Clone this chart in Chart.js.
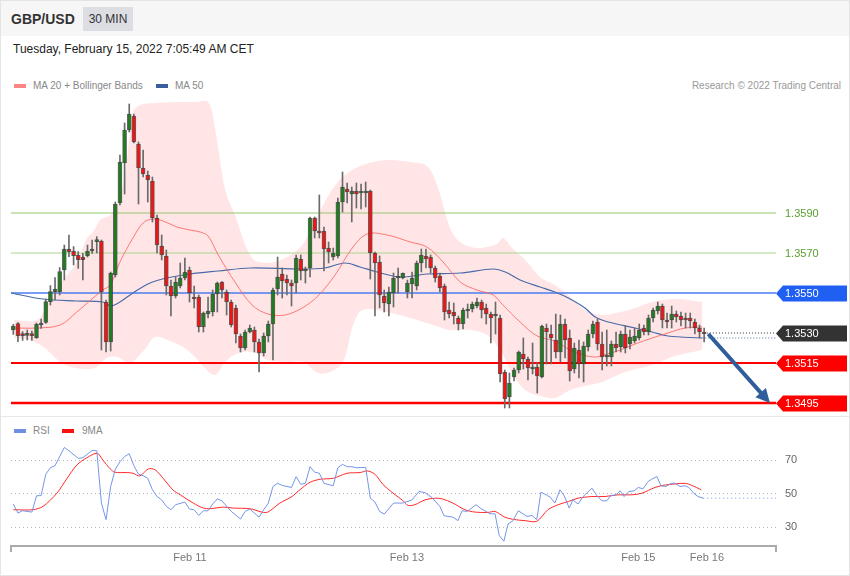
<!DOCTYPE html>
<html>
<head>
<meta charset="utf-8">
<title>GBP/USD 30 MIN</title>
<script src="https://cdn.jsdelivr.net/npm/chart.js@4.4.0/dist/chart.umd.min.js"></script>
<style>
  html, body { margin: 0; padding: 0; background: #fff; }
  body { font-family: "Liberation Sans", Arial, sans-serif; }
  #wrap { position: relative; width: 850px; height: 576px; overflow: hidden; }
  .abs { position: absolute; }
  .top { left: 0; top: 0; width: 850px; height: 36px; background: #f6f6f6; }
  .sym { left: 11px; top: 11px; font-size: 14px; font-weight: bold; color: #333; }
  .tf { left: 83px; top: 7px; width: 50px; height: 24px; line-height: 24px; text-align: center; background: #dcdee3; font-size: 12px; color: #333; }
  .date { left: 13px; top: 42px; font-size: 12px; color: #222; }
  .leg { font-size: 10px; color: #888; line-height: 12px; }
  .sw { width: 12px; height: 4px; }
  .copy { right: 9px; top: 80px; font-size: 10px; color: #999; line-height: 12px; }
  .sep { left: 0; top: 416px; width: 850px; height: 1px; background: #e8e8e8; }
  .frame { left: 0; top: 0; width: 848px; height: 574px; border: 1px solid #e4e4e4; pointer-events: none; }
  canvas { position: absolute; left: 0; }
</style>
</head>
<body>
<div id="wrap">
  <div class="abs top"></div>
  <div class="abs sym">GBP/USD</div>
  <div class="abs tf">30 MIN</div>
  <div class="abs date">Tuesday, February 15, 2022 7:05:49 AM CET</div>

  <div class="abs sw" style="left:14px; top:84px; background:#ff8585;"></div>
  <div class="abs leg" style="left:33px; top:80px;">MA 20 + Bollinger Bands</div>
  <div class="abs sw" style="left:156px; top:84px; background:#3a5e9e;"></div>
  <div class="abs leg" style="left:175px; top:80px;">MA 50</div>
  <div class="abs copy">Research © 2022 Trading Central</div>

  <canvas id="priceChart" width="850" height="320" style="top:96px"></canvas>
  <div class="abs sep"></div>

  <div class="abs sw" style="left:14px; top:429px; background:#6f8fe3;"></div>
  <div class="abs leg" style="left:33px; top:425px;">RSI</div>
  <div class="abs sw" style="left:62px; top:429px; background:#ff1010;"></div>
  <div class="abs leg" style="left:82px; top:425px;">9MA</div>

  <canvas id="rsiChart" width="850" height="130" style="top:440px"></canvas>
  <div class="abs frame"></div>
</div>

<script>
Chart.defaults.font.family = '"Liberation Sans", Arial, sans-serif';
Chart.defaults.animation = false;

// candles (30 min), index 0..149
const opens = [
  1.35315,1.35347,1.35297,1.35288,1.35295,1.35277,1.3534,1.35353,1.35457,1.35507,
  1.35507,1.35615,1.3572,1.3571,1.3569,1.3568,1.35687,1.3571,1.35757,1.3576,
  1.35455,1.35255,1.3559,1.3595,1.3615,1.36315,1.36385,1.36245,1.36125,1.3609,
  1.3606,1.35875,1.35735,1.35685,1.35535,1.35485,1.35535,1.35575,
  1.35615,1.3548,1.3548,1.3533,1.35395,1.35405,1.35495,1.35555,1.35505,1.35455,
  1.35425,1.35285,1.35225,1.35305,1.35315,1.35255,1.352,1.35285,1.35345,1.3552,
  1.35595,1.3557,1.3555,1.3555,1.3567,1.3561,1.35625,1.35875,1.3581,1.3581,
  1.35725,1.3568,1.35685,1.35955,1.3602,1.35995,1.3601,1.36,
  1.36,1.3601,1.357,1.35655,1.35485,1.35445,1.355,1.35575,1.35575,1.35505,
  1.35545,1.35535,1.3565,1.35685,1.3568,1.35625,1.35585,1.35535,1.35415,1.35405,
  1.35375,1.35345,1.3541,1.3542,1.35435,1.35455,1.35425,1.35395,1.35385,1.35375,
  1.35105,1.3498,1.3508,1.35115,1.35195,1.3517,1.3512,1.3513,
  1.3508,1.35325,1.35295,1.35265,1.35205,1.35345,1.35275,1.3512,1.35215,1.35145,
  1.3523,1.35295,1.35355,1.35245,1.3518,1.3518,1.35245,1.3523,1.35295,1.35245,
  1.3526,1.35275,1.35325,1.35305,1.35375,1.3541,1.35435,1.35365,1.35365,1.35395,
  1.35385,1.35375,1.35375,1.35355,1.35325,1.353
];
const highs = [
  1.35343,1.35352,1.35307,1.35315,1.3531,1.3535,1.3537,1.3547,1.35537,1.35577,
  1.35627,1.3574,1.3579,1.35732,1.35707,1.35698,1.3574,1.35765,1.35782,1.35765,
  1.35465,1.35605,1.35955,1.3619,1.3635,1.36445,1.36395,1.36255,1.36215,1.3611,
  1.3608,1.3589,1.3579,1.35715,1.35565,1.3558,1.3565,1.35675,
  1.3563,1.35535,1.3549,1.35405,1.3548,1.35515,1.35555,1.35557,1.35515,1.35465,
  1.3544,1.35295,1.35315,1.3534,1.3533,1.3527,1.353,1.3536,1.35525,1.3568,
  1.35625,1.3559,1.35565,1.3569,1.3569,1.3563,1.3588,1.3588,1.3599,1.3583,
  1.35755,1.35725,1.35975,1.36105,1.3605,1.3603,1.3605,1.36045,
  1.36055,1.36015,1.35705,1.35685,1.35515,1.3553,1.356,1.35625,1.356,1.35565,
  1.35605,1.3566,1.3572,1.3572,1.3569,1.35635,1.356,1.35545,1.35455,1.3545,
  1.35385,1.35425,1.35445,1.35455,1.35475,1.35465,1.35445,1.35405,1.35455,1.3539,
  1.35115,1.351,1.35125,1.3521,1.35275,1.3518,1.3525,1.3515,
  1.3534,1.35345,1.3534,1.35395,1.3539,1.3537,1.35315,1.3525,1.35265,1.35255,
  1.35315,1.3536,1.3537,1.35305,1.35315,1.3526,1.35305,1.3531,1.35335,1.35315,
  1.35325,1.35345,1.3534,1.3539,1.35425,1.35455,1.35445,1.354,1.35435,1.3541,
  1.35405,1.354,1.354,1.3537,1.3534,1.35325
];
const lows = [
  1.35293,1.35257,1.35263,1.35265,1.35263,1.35273,1.35323,1.35348,1.3544,1.35465,
  1.3549,1.35565,1.35682,1.3564,1.35623,1.35565,1.3568,1.35698,1.357,1.35215,
  1.35205,1.3521,1.3558,1.3594,1.35995,1.36305,1.3625,1.35945,1.3608,1.35955,
  1.35855,1.357,1.35665,1.3549,1.35385,1.35475,1.35525,1.35565,
  1.35455,1.35425,1.35305,1.35305,1.35375,1.35385,1.35405,1.35475,1.3539,1.3533,
  1.3525,1.35205,1.35215,1.353,1.35205,1.35105,1.35185,1.35255,1.35165,1.3549,
  1.35475,1.3549,1.35435,1.355,1.35565,1.3555,1.3558,1.35775,1.35775,1.3561,
  1.3565,1.35665,1.35675,1.35905,1.3595,1.35855,1.35925,1.3592,
  1.3593,1.3557,1.35385,1.35425,1.35405,1.35385,1.3543,1.355,1.3557,1.35475,
  1.35475,1.35515,1.35605,1.35625,1.356,1.35555,1.35505,1.35365,1.35375,1.35345,
  1.35315,1.3532,1.35375,1.35405,1.35425,1.35375,1.35345,1.3525,1.35295,1.35055,
  1.34925,1.34925,1.3506,1.351,1.3512,1.35065,1.35095,1.35,
  1.35075,1.35145,1.35145,1.35175,1.35155,1.35175,1.3506,1.351,1.35075,1.35055,
  1.3521,1.35275,1.35215,1.35115,1.35135,1.35135,1.35205,1.35205,1.352,1.3522,
  1.3525,1.35265,1.3529,1.3529,1.35355,1.35395,1.35325,1.35325,1.35325,1.35355,
  1.35335,1.35325,1.35325,1.35295,1.35275,1.35255
];
const closes = [
  1.35335,1.35287,1.35287,1.35297,1.35287,1.35343,1.3535,1.35457,1.35507,1.3552,
  1.35607,1.3572,1.35707,1.35687,1.35667,1.35667,1.3571,1.3572,1.3576,1.35505,
  1.35255,1.356,1.35945,1.36155,1.36315,1.36395,1.36255,1.36125,1.36095,1.36065,
  1.35875,1.3574,1.3569,1.35535,1.35485,1.35555,1.35575,1.35605,
  1.355,1.3547,1.3533,1.354,1.3541,1.35495,1.3555,1.35515,1.35455,1.3534,
  1.35295,1.35225,1.35305,1.35325,1.35255,1.352,1.35285,1.35345,1.35515,1.3558,
  1.3556,1.3555,1.35535,1.35675,1.3561,1.3562,1.35875,1.3581,1.358,1.3572,
  1.35705,1.357,1.35955,1.3603,1.36005,1.3601,1.35995,1.36005,
  1.36005,1.357,1.3565,1.3549,1.3545,1.35505,1.35575,1.35585,1.356,1.3555,
  1.35575,1.3565,1.3569,1.3567,1.35625,1.35575,1.35525,1.35405,1.35395,1.35385,
  1.35345,1.35415,1.3542,1.35445,1.35455,1.35415,1.35395,1.35375,1.3539,1.35095,
  1.3497,1.3505,1.35115,1.35205,1.3517,1.35125,1.3513,1.35085,
  1.35335,1.35305,1.35275,1.35205,1.35345,1.35265,1.3511,1.35225,1.35145,1.35235,
  1.35295,1.35345,1.35245,1.3518,1.35185,1.35245,1.35225,1.35295,1.35225,1.3528,
  1.35285,1.35315,1.35305,1.35375,1.35415,1.35435,1.35365,1.35355,1.35395,1.3538,
  1.35365,1.35365,1.3536,1.35325,1.35305,1.35295
];

// indicator lines: [candle index, value]
const bandUpper = [
  [0.2,1.35365],[5.1,1.35365],[7.9,1.35465],[9.4,1.35525],[11.6,1.3559],[13.7,1.35655],[15.9,1.35775],
  [17.2,1.35805],[18.7,1.35865],[20.9,1.3589],[23,1.35975],[24.5,1.36165],[25.8,1.36405],[27.3,1.3644],
  [30.6,1.3645],[34.9,1.36455],[39.2,1.36455],[42,1.36455],[43.5,1.36325],[45.7,1.36015],[47.8,1.3589],
  [51.5,1.35675],[54.9,1.3565],[58.6,1.35675],[62.3,1.3574],[65.7,1.3589],[68.7,1.36015],[71.5,1.3609],
  [75.4,1.3614],[80.6,1.36165],[85.6,1.36155],[89.2,1.36135],[91.4,1.3604],[94.2,1.35825],[96.4,1.35755],
  [100,1.35725],[104.3,1.35745],[105.6,1.35775],[107.6,1.35725],[110.4,1.35665],[113.6,1.3558],[116.8,1.3554],
  [119.7,1.3549],[123.3,1.35415],[127,1.3539],[130.9,1.35405],[134.1,1.35425],[137.8,1.35455],[142.7,1.3547],
  [148.6,1.35455]
];
const bandLower = [
  [0.2,1.35275],[3.6,1.35265],[6.8,1.35225],[10.1,1.35155],[13.3,1.35125],[17.6,1.35125],[20.2,1.35175],
  [22.4,1.3518],[25.2,1.3515],[28.4,1.3522],[30.6,1.3528],[33.8,1.3526],[36.6,1.3523],[39.2,1.3518],
  [41.3,1.35125],[43.5,1.3509],[45.7,1.35155],[48.5,1.352],[51.5,1.35205],[54.9,1.35165],[58.6,1.35155],
  [62.5,1.35155],[65.7,1.351],[68.3,1.35105],[71.1,1.35155],[73.3,1.3534],[75.4,1.35415],[80.6,1.35405],
  [85.6,1.35375],[89.9,1.35345],[94.2,1.35315],[98.5,1.35315],[102.2,1.3529],[105,1.35215],[107.8,1.3509],
  [110.4,1.35015],[113.6,1.34985],[116.8,1.34975],[120.1,1.35015],[123.3,1.35035],[127,1.35055],[132,1.35105],
  [137.8,1.3514],[142.7,1.35185],[148.6,1.35215]
];
const ma20 = [
  [0.2,1.35325],[5.1,1.35325],[10.1,1.3534],[13.7,1.35405],[17.2,1.35475],[19.3,1.35515],[20.9,1.3554],
  [23,1.35655],[25.8,1.35775],[28,1.3585],[30.1,1.3587],[32.3,1.3586],[35.3,1.3583],[38.1,1.35815],
  [40.3,1.35805],[42,1.35785],[44.2,1.3569],[47.8,1.35555],[51.5,1.3544],[54.9,1.35395],[58.6,1.3539],
  [62.3,1.35425],[65.7,1.35485],[69.4,1.3559],[73.1,1.35725],[76.3,1.35795],[80.6,1.3579],[85.6,1.35755],
  [89.2,1.3573],[92.7,1.35655],[96.4,1.35555],[100,1.35515],[103.5,1.3549],[105.6,1.3544],[109.3,1.35355],
  [113,1.35285],[116.8,1.3526],[120.1,1.35215],[122.9,1.3519],[125.5,1.3518],[128.1,1.35195],[130.9,1.35215],
  [134.1,1.35245],[137.8,1.35275],[141.2,1.353],[144.9,1.35325],[148.6,1.3533]
];
const ma50 = [
  [-0.5,1.355],[6.4,1.3547],[13.7,1.3546],[19.3,1.35455],[20.9,1.35435],[23,1.35455],[25.8,1.355],
  [29.5,1.3555],[33.1,1.35575],[38.1,1.35595],[44.2,1.3561],[51.1,1.35625],[61.8,1.3562],[67.2,1.35625],
  [71.5,1.3565],[74.8,1.3563],[78.5,1.35605],[83.4,1.3558],[89.2,1.35595],[96.4,1.356],[103.5,1.3562],
  [106.1,1.35605],[109.3,1.35565],[113.6,1.3553],[116.8,1.35505],[119.7,1.35475],[123.3,1.35425],
  [125.5,1.3538],[128.3,1.35355],[134.1,1.35325],[137.8,1.35305],[141.2,1.35285],[148.6,1.35275]
];

const rsi = [
  [0,43.7],[1,38.3],[2,39.7],[4,38.9],[5,48.6],[6,48.8],[7,61.5],[8,65.4],[9,66.6],[11,77.5],[12,75.5],
  [14,71],[15,71.4],[17,75.7],[18,75.5],[19,44.3],[20,34.4],[21,54.2],[22,64.5],[23,69],[24,72],[25,73.8],
  [26,66.6],[27,61.5],[28,60.7],[29,59.1],[30,52.2],[31,48.2],[32,46.2],[33,42.3],[34,40.3],[35,43.3],
  [37,44.9],[38,40.7],[39,40.3],[40,36.9],[41,39.7],[42,39.7],[43,43.7],[44,46.8],[45,45.6],[47,39.3],
  [49,34.8],[50,39.3],[51,40.7],[53,35.9],[54,40.3],[55,44.3],[56,54.2],[57,56.1],[58,54.8],[60,53.6],
  [61,60.1],[62,55.5],[63,56.1],[64,66],[65,62.7],[66,62.1],[67,56.1],[69,54.6],[70,65.4],[71,67.4],
  [72,66],[73,66],[74,65.4],[76,65.6],[77,47.2],[78,44.9],[79,39.3],[80,37.7],[82,44.3],[84,44.3],
  [86,46.2],[87.5,51.2],[88.8,50.5],[90.3,47.6],[92,42.3],[92.9,36.7],[94.8,35.9],[95.9,33.8],[96.8,39.7],
  [97.9,39.3],[99.8,43.3],[100.9,40.9],[101.7,39.7],[102.8,37.9],[103.9,37.9],[104.8,25],[105.8,21.5],
  [106.7,31.8],[107.8,33.8],[108.9,39.7],[109.7,38.3],[110.8,36.3],[111.9,36.9],[112.9,34.4],[113.8,50.8],
  [114.9,49.2],[115.8,47.8],[116.8,44.3],[117.9,52.2],[118.8,48.8],[119.9,41.3],[120.7,46.2],[121.8,43.7],
  [122.9,48.2],[124.8,53.2],[125.9,48.6],[127,45.6],[128,45.6],[128.9,48.8],[130,49.2],[130.9,51.6],
  [131.7,48.2],[132.8,51.2],[133.9,51.6],[134.8,53.6],[135.8,52.8],[136.9,57.1],[137.8,58.7],[138.8,60.1],
  [139.7,54.6],[140.8,54.2],[141.9,56.1],[142.7,56.1],[143.8,54.2],[144.9,54.6],[145.7,53.6],[146.8,50],
  [147.7,48.2],[148.8,47.2]
];
const rsiMa9 = [
  [0,40.3],[4.2,40.3],[6.4,42.3],[9.4,50.2],[11.6,59.1],[13.7,67],[15.9,71.4],[18.1,74],[19.3,70],
  [20.9,64.7],[21.9,62.7],[24.5,62.5],[25.8,62.1],[27.3,60.5],[29.1,64.7],[30.6,64.1],[32.3,59.1],
  [34.4,52.2],[36,49.2],[38.8,44.3],[41,41.3],[42.4,40.9],[45.2,41.9],[47.4,41.3],[51.1,40.9],[53.6,38.9],
  [54.9,38.9],[57.5,44.3],[60.1,48.2],[61.8,52.2],[64,56.7],[66.2,58.5],[69,59.1],[72,62.1],[74.8,62.5],
  [76.3,63.5],[78,61.5],[79.7,55.5],[81.9,50.2],[84.1,45.6],[85.1,42.9],[86.6,43.3],[88.8,46.2],[91,47.2],
  [92.5,46.8],[94.8,44.3],[97.4,40.3],[99.6,38.9],[102.4,38.7],[103.9,39.3],[106,35.9],[108.2,34.4],
  [110.4,33.8],[112.9,33.4],[115.3,40.3],[117.5,43.3],[119.7,45.2],[121.8,47.2],[124.8,48.2],[127.6,48.2],
  [130.4,49.2],[133.4,49.2],[135.6,50.2],[138.4,53.6],[140.6,55.1],[142.7,55.7],[144.9,56.1],[146.4,54.8],
  [148.4,52.2]
];

const levelValues = [1.3590, 1.3570, 1.3550, 1.3530, 1.3515, 1.3495];
const levelLabels = ['1.3590', '1.3570', '1.3550', '1.3530', '1.3515', '1.3495'];
const rsiTicks = [30, 50, 70];
const dayTicks = [38.1, 84.9, 134.8, 149.6];
const dayLabels = ['Feb 11', 'Feb 13', 'Feb 15', 'Feb 16'];

// styles
const levelStyles = [
  { line: 'rgba(150,200,110,0.5)', width: 2, text: '#5aa02c' },
  { line: '#a9d68c', width: 1, text: '#5aa02c' },
  { line: '#4a7cf0', width: 1.5, tag: '#1f5ff2' },
  { line: '#333333', width: 1, dash: [1, 2], tag: '#333333' },
  { line: '#ff0000', width: 2, tag: '#ff0000' },
  { line: '#ff0000', width: 2.5, tag: '#ff0000' }
];
const xMin = -0.5, xMax = 164.5;
const lastIdx = closes.length - 1;

const toPts = pairs => pairs.map(p => ({ x: p[0], y: p[1] }));
const candleIdx = opens.map((o, i) => i);
const bodyColors = closes.map((c, i) => c >= opens[i] ? '#1e7d1e' : '#f01414');

const lineBase = { type: 'line', pointRadius: 0, fill: false };

// Level tags on the right, and the forecast arrow
const priceTags = {
  id: 'priceTags',
  afterDatasetsDraw(chart) {
    const ctx = chart.ctx;
    const y = chart.scales.y, x = chart.scales.x;
    const right = chart.chartArea.right;
    ctx.save();
    ctx.font = '11px "Liberation Sans", Arial, sans-serif';
    ctx.textBaseline = 'middle';
    levelValues.forEach((v, k) => {
      const py = Math.round(y.getPixelForValue(v)) + 0.5;
      const st = levelStyles[k];
      if (st.tag) {
        ctx.fillStyle = st.tag;
        ctx.beginPath();
        ctx.moveTo(right, py);
        ctx.lineTo(right + 7, py - 8);
        ctx.lineTo(847, py - 8);
        ctx.lineTo(847, py + 8);
        ctx.lineTo(right + 7, py + 8);
        ctx.closePath();
        ctx.fill();
        ctx.fillStyle = '#fff';
      } else {
        ctx.fillStyle = st.text;
      }
      ctx.fillText(levelLabels[k], right + 9, py);
    });

    // arrow from last close down to the 1.3495 target
    const x0 = x.getPixelForValue(149.9), y0 = y.getPixelForValue(closes[lastIdx]);
    const x1 = x.getPixelForValue(163.2), y1 = y.getPixelForValue(levelValues[5]);
    const ang = Math.atan2(y1 - y0, x1 - x0);
    const head = 14;
    ctx.strokeStyle = '#2f5e9b';
    ctx.fillStyle = '#2f5e9b';
    ctx.lineWidth = 4;
    ctx.beginPath();
    ctx.moveTo(x0, y0);
    ctx.lineTo(x1 - Math.cos(ang) * head * 0.8, y1 - Math.sin(ang) * head * 0.8);
    ctx.stroke();
    ctx.beginPath();
    ctx.moveTo(x1, y1);
    ctx.lineTo(x1 - head * Math.cos(ang) + 7 * Math.sin(ang), y1 - head * Math.sin(ang) - 7 * Math.cos(ang));
    ctx.lineTo(x1 - head * Math.cos(ang) - 7 * Math.sin(ang), y1 - head * Math.sin(ang) + 7 * Math.cos(ang));
    ctx.closePath();
    ctx.fill();
    ctx.restore();
  }
};

const levelSets = levelValues.map((v, k) => Object.assign({}, lineBase, {
  data: [{ x: k === 3 ? 149.6 : xMin, y: v }, { x: xMax, y: v }],
  borderColor: levelStyles[k].line,
  borderWidth: levelStyles[k].width,
  borderDash: levelStyles[k].dash || [],
  order: 5
}));

new Chart(document.getElementById('priceChart'), {
  type: 'bar',
  data: {
    datasets: [
      Object.assign({}, lineBase, {
        data: toPts(bandUpper), borderWidth: 0, tension: 0.35,
        fill: '+1', backgroundColor: 'rgba(255,0,0,0.1)', order: 8
      }),
      Object.assign({}, lineBase, { data: toPts(bandLower), borderWidth: 0, tension: 0.35, order: 8 }),
      ...levelSets,
      Object.assign({}, lineBase, {
        data: toPts(ma20), borderColor: 'rgba(255,100,100,0.85)', borderWidth: 1, tension: 0.35, order: 4
      }),
      Object.assign({}, lineBase, {
        data: toPts(ma50), borderColor: '#4a6aa8', borderWidth: 1.2, tension: 0.35, order: 4
      }),
      Object.assign({}, lineBase, {
        data: [{ x: 148.6, y: ma50[ma50.length - 1][1] }, { x: xMax, y: ma50[ma50.length - 1][1] }],
        borderColor: '#4a6aa8', borderWidth: 1, borderDash: [1, 2], order: 4
      }),
      {
        type: 'bar',
        data: candleIdx.map(i => ({ x: i, y: [lows[i], highs[i]] })),
        backgroundColor: '#6a6a6a', barThickness: 1, grouped: false, order: 2
      },
      {
        type: 'bar',
        data: candleIdx.map(i => ({ x: i, y: [opens[i], closes[i]] })),
        backgroundColor: bodyColors, borderColor: 'rgba(50,50,50,0.75)', borderWidth: 1,
        borderSkipped: false, barThickness: 4, minBarLength: 2, grouped: false, order: 1
      }
    ]
  },
  options: {
    responsive: false,
    animation: false,
    layout: { padding: { left: 11, right: 74, top: 0, bottom: 0 } },
    plugins: { legend: { display: false }, tooltip: { enabled: false } },
    scales: {
      x: { type: 'linear', min: xMin, max: xMax, offset: false, display: false },
      y: { type: 'linear', min: 1.34885, max: 1.36485, display: false }
    }
  },
  plugins: [priceTags]
});

// RSI panel
const axisEnds = {
  id: 'axisEnds',
  afterDraw(chart) {
    const { ctx, chartArea } = chart;
    ctx.save();
    ctx.strokeStyle = '#ababab';
    ctx.lineWidth = 2;
    [chartArea.left, chartArea.right].forEach(px => {
      ctx.beginPath();
      ctx.moveTo(px, chartArea.bottom);
      ctx.lineTo(px, chartArea.bottom + 6);
      ctx.stroke();
    });
    ctx.restore();
  }
};

new Chart(document.getElementById('rsiChart'), {
  type: 'line',
  data: {
    datasets: [
      Object.assign({}, lineBase, { data: toPts(rsi), borderColor: '#7595e8', borderWidth: 1, tension: 0 }),
      Object.assign({}, lineBase, {
        data: [{ x: rsi[rsi.length - 1][0], y: rsi[rsi.length - 1][1] }, { x: xMax, y: rsi[rsi.length - 1][1] }],
        borderColor: '#7595e8', borderWidth: 1, borderDash: [1, 3]
      }),
      Object.assign({}, lineBase, { data: toPts(rsiMa9), borderColor: '#ff2a2a', borderWidth: 1, tension: 0.3 })
    ]
  },
  options: {
    responsive: false,
    animation: false,
    layout: { padding: { left: 11, right: 0, top: 0, bottom: 0 } },
    plugins: { legend: { display: false }, tooltip: { enabled: false } },
    scales: {
      x: {
        type: 'linear', min: xMin, max: xMax, position: 'bottom',
        afterBuildTicks: s => { s.ticks = dayTicks.map(v => ({ value: v })); },
        afterFit: s => { s.height = 24; s.paddingLeft = 0; s.paddingRight = 0; },
        ticks: {
          callback: (v, i) => dayLabels[i],
          color: '#777', font: { size: 11 }, padding: 5, autoSkip: false, maxRotation: 0
        },
        grid: { display: false, drawTicks: false },
        border: { display: true, color: '#ababab', width: 2 }
      },
      y: {
        type: 'linear', min: 18.66, max: 81.94, position: 'right',
        afterBuildTicks: s => { s.ticks = rsiTicks.map(v => ({ value: v })); },
        afterFit: s => { s.width = 74; s.paddingTop = 0; s.paddingBottom = 0; },
        ticks: { color: '#666', font: { size: 11 }, padding: 9 },
        grid: { color: '#b5b5b5', drawTicks: false },
        border: { display: false, dash: [1, 3] }
      }
    }
  },
  plugins: [axisEnds]
});
</script>
</body>
</html>
